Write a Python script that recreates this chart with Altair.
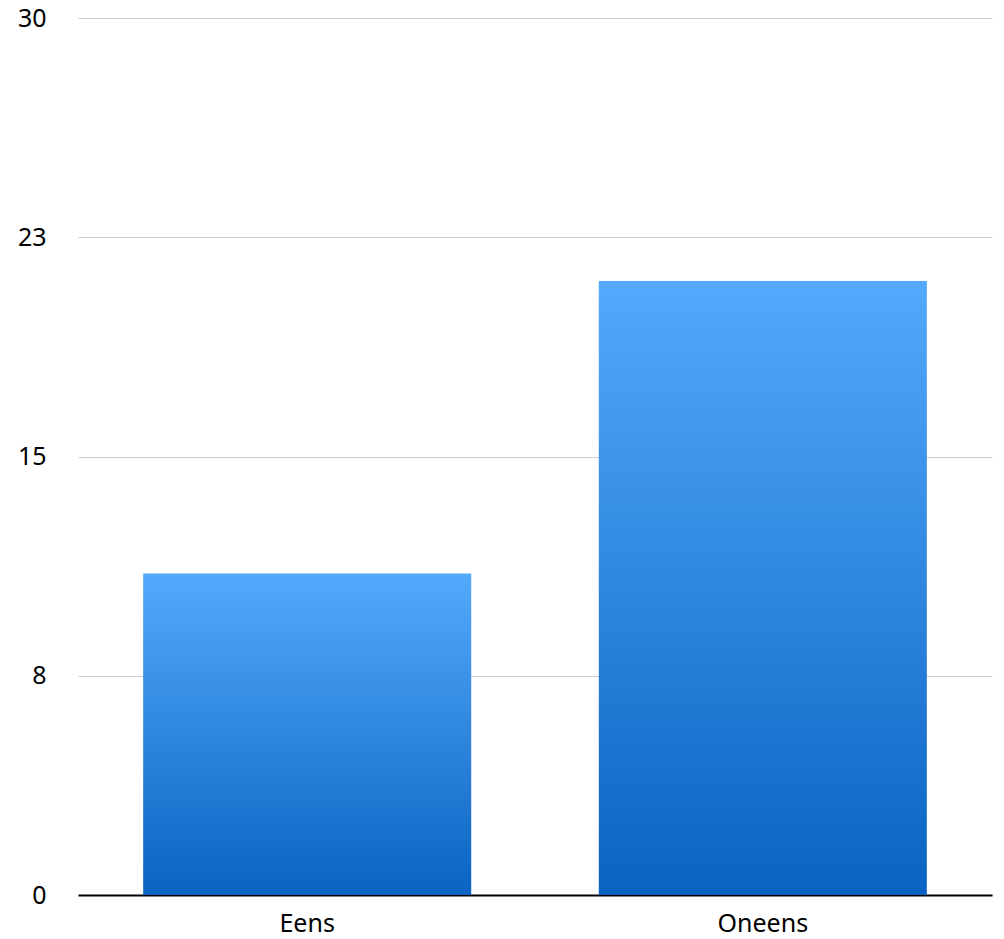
import altair as alt
import pandas as pd

categories = ["Eens", "Oneens"]
values = [11, 21]
y_ticks = [0, 7.5, 15, 22.5, 30]

df = pd.DataFrame({"cat": categories, "val": values})

grad = alt.Gradient(
    gradient="linear",
    stops=[alt.GradientStop(color="#53a9fb", offset=0), alt.GradientStop(color="#0a63c2", offset=1)],
    x1=0, x2=0, y1=0, y2=1,
)

chart = alt.Chart(df).mark_bar(fill=grad).encode(
    x=alt.X("cat:N", sort=categories, title=None,
            scale=alt.Scale(paddingInner=0.28, paddingOuter=0.143),
            axis=alt.Axis(labelAngle=0, labelFontSize=25, labelColor="#000", labelPadding=16,
                          ticks=False, domainColor="#000", domainWidth=2, labelFont="Noto Sans")),
    y=alt.Y("val:Q", title=None, scale=alt.Scale(domain=[0, 30], nice=False),
            axis=alt.Axis(values=y_ticks, format=".0f", labelFontSize=25, labelColor="#000",
                          labelAlign="right", labelPadding=32, ticks=False, domain=False,
                          gridColor="#cccccc", labelFont="Noto Sans")),
).properties(
    width=914, height=877,
    autosize=alt.AutoSizeParams(type="none"),
    padding={"left": 70, "top": 10, "right": 4, "bottom": 50},
).configure_view(stroke=None)

chart.save("out.html", embed_options={"renderer": "svg", "actions": False})
